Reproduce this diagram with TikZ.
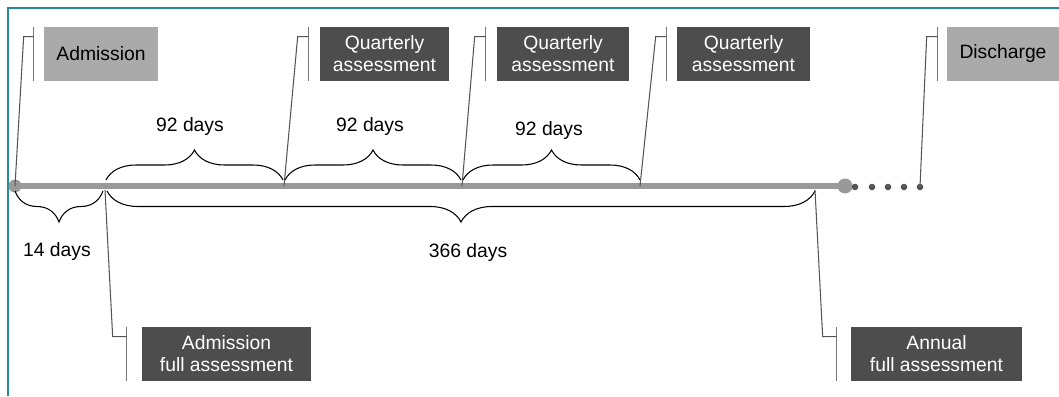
\documentclass[tikz,border=0pt]{standalone}
\usepackage{fontspec}
\setmainfont{Liberation Sans}
\usepackage{xcolor}
\usepackage{tikz}
\usetikzlibrary{decorations.pathreplacing}

\begin{document}
\begin{tikzpicture}[x=0.02cm,y=-0.02cm]
    \definecolor{myteal}{RGB}{38,138,150}
    \definecolor{mylight}{RGB}{170,170,170}
    \definecolor{mydark}{RGB}{77,77,77}
    \definecolor{myline}{RGB}{153,153,153}
    \definecolor{mydot}{RGB}{85,85,85}

    \fontsize{11pt}{12.5pt}\selectfont  % font size
    \tikzstyle{event}=[rectangle,fill=mylight,text=black,minimum height=1.08cm,inner sep=0pt,align=center]  % admission / discharge
    \tikzstyle{assess}=[rectangle,fill=mydark,text=white,minimum height=1.08cm,inner sep=0pt,align=center]  % assessments
    \tikzstyle{callout}=[draw=mydot,line width=0.6pt]
    \tikzstyle{tab}=[draw=mydot!80,line width=0.9pt]
    \tikzstyle{span}=[draw=black,line width=0.6pt,decorate,decoration={brace,amplitude=0.6cm}]
    \tikzstyle{spanb}=[span,decoration={brace,mirror,amplitude=0.62cm}]
    \tikzstyle{point}=[coordinate]

    \useasboundingbox (0,0) rectangle (1059,396);
    \draw[myteal,line width=1.1pt] (8,396) -- (8,8) -- (1059,8);  % frame

    % points on the timeline
    \node[point] (t0) at (15,186) {};
    \node[point] (t14) at (105,186) {};
    \node[point] (tq1) at (284,186) {};
    \node[point] (tq2) at (462,186) {};
    \node[point] (tq3) at (640,186) {};
    \node[point] (t366) at (815,186) {};
    \node[point] (tend) at (845,186) {};
    \node[point] (tdis) at (920,187) {};

    % boxes
    \node[event,minimum width=2.28cm] (adm) at (101,54) {Admission};
    \node[assess,minimum width=2.58cm] (q1) at (384.5,54) {Quarterly\\assessment};
    \node[assess,minimum width=2.64cm] (q2) at (563,54) {Quarterly\\assessment};
    \node[assess,minimum width=2.66cm] (q3) at (743.5,54) {Quarterly\\assessment};
    \node[event,minimum width=2.24cm] (dis) at (1003,54) {Discharge};
    \node[assess,minimum width=3.38cm] (afa) at (226.5,354) {Admission\\full assessment};
    \node[assess,minimum width=3.42cm] (ann) at (936.5,354) {Annual\\full assessment};

    % timeline
    \draw[myline,line width=0.12cm] (t0) -- (tend);
    \fill[myline] (t0) circle (0.13cm);
    \fill[myline] (tend) circle (0.15cm);
    \foreach \x in {855,872,888,904,920}
        \fill[mydot] (\x,187) circle (0.066cm);

    % braces
    \draw[span] ([shift={(1,-6)}]t14) -- ([shift={(-1,-6)}]tq1);
    \draw[span] ([shift={(1,-6)}]tq1) -- ([shift={(-1,-6)}]tq2);
    \draw[span] ([shift={(1,-6)}]tq2) -- ([shift={(0,-6)}]tq3);
    \draw[spanb] ([shift={(0,5)}]t0) -- ([shift={(-2,5)}]t14);
    \draw[spanb] ([shift={(2,5)}]t14) -- ([shift={(0,5)}]t366);
    \node (d1) at (190,126) {92 days};
    \node (d2) at (370,126) {92 days};
    \node (d3) at (549,131) {92 days};
    \node (d14) at (57,251) {14 days};
    \node (d366) at (468,252) {366 days};

    % callouts
    \draw[tab] ([xshift=-0.2cm]adm.north west) -- ([xshift=-0.2cm]adm.south west);
    \draw[callout] (t0) -- ([xshift=-0.4cm,yshift=-0.2cm]adm.north west) -- ([xshift=-0.2cm,yshift=-0.2cm]adm.north west);
    \draw[tab] ([xshift=-0.22cm]q1.north west) -- ([xshift=-0.22cm]q1.south west);
    \draw[callout] (tq1) -- ([xshift=-0.44cm,yshift=-0.2cm]q1.north west) -- ([xshift=-0.22cm,yshift=-0.2cm]q1.north west);
    \draw[tab] ([xshift=-0.22cm]q2.north west) -- ([xshift=-0.22cm]q2.south west);
    \draw[callout] (tq2) -- ([xshift=-0.44cm,yshift=-0.2cm]q2.north west) -- ([xshift=-0.22cm,yshift=-0.2cm]q2.north west);
    \draw[tab] ([xshift=-0.2cm]q3.north west) -- ([xshift=-0.2cm]q3.south west);
    \draw[callout] (tq3) -- ([xshift=-0.42cm,yshift=-0.2cm]q3.north west) -- ([xshift=-0.2cm,yshift=-0.2cm]q3.north west);
    \draw[tab] ([xshift=-0.18cm]dis.north west) -- ([xshift=-0.18cm]dis.south west);
    \draw[callout] (tdis) -- ([xshift=-0.4cm,yshift=-0.2cm]dis.north west) -- ([xshift=-0.18cm,yshift=-0.2cm]dis.north west);
    \draw[tab] ([xshift=-0.3cm]afa.north west) -- ([xshift=-0.3cm]afa.south west);
    \draw[callout] ([yshift=-0.08cm]t14) -- ([xshift=-0.58cm,yshift=-0.2cm]afa.north west) -- ([xshift=-0.3cm,yshift=-0.2cm]afa.north west);
    \draw[tab] ([xshift=-0.28cm]ann.north west) -- ([xshift=-0.28cm]ann.south west);
    \draw[callout] ([yshift=-0.08cm]t366) -- ([xshift=-0.56cm,yshift=-0.2cm]ann.north west) -- ([xshift=-0.28cm,yshift=-0.2cm]ann.north west);
\end{tikzpicture}
\end{document}
